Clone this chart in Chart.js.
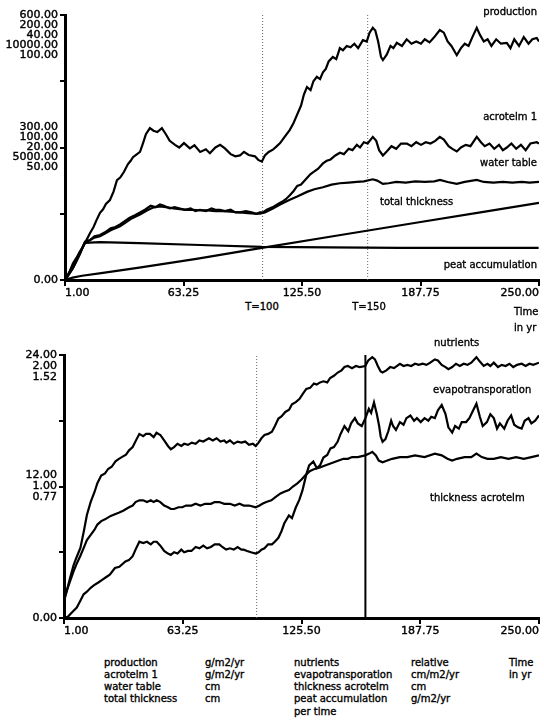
<!DOCTYPE html>
<html><head><meta charset="utf-8">
<script src="https://cdn.jsdelivr.net/npm/chart.js@4/dist/chart.umd.min.js"></script>
<style>
html,body{margin:0;padding:0;background:#fff;}
body{width:544px;height:721px;position:relative;overflow:hidden;font-family:"DejaVu Sans",sans-serif;color:#000;}
canvas{position:absolute;left:0;}
.t{position:absolute;font-size:10px;line-height:12px;white-space:nowrap;-webkit-text-stroke:0.35px #000;}
.r{text-align:right;}
.c{text-align:center;width:50px;}
</style></head><body>
<canvas id="topChart" width="544" height="300" style="top:0"></canvas>
<canvas id="botChart" width="544" height="310" style="top:340px"></canvas>

<div class="t r" style="right:7px;top:6px">production</div>
<div class="t r" style="right:7px;top:111px">acrotelm 1</div>
<div class="t r" style="right:7px;top:157px">water table</div>
<div class="t" style="left:380px;top:196px">total thickness</div>
<div class="t r" style="right:7px;top:259px">peat accumulation</div>
<div class="t c" style="left:237px;top:301px">T=100</div>
<div class="t c" style="left:344px;top:301px">T=150</div>
<div class="t" style="left:514px;top:306px">Time</div>
<div class="t" style="left:514px;top:322px">in yr</div>

<div class="t" style="left:434px;top:337px">nutrients</div>
<div class="t" style="left:433px;top:384px">evapotransporation</div>
<div class="t" style="left:430px;top:492px">thickness acrotelm</div>

<div class="t" style="left:104px;top:657px">production<br>acrotelm 1<br>water table<br>total thickness</div>
<div class="t" style="left:205px;top:657px">g/m2/yr<br>g/m2/yr<br>cm<br>cm</div>
<div class="t" style="left:294px;top:657px">nutrients<br>evapotransporation<br>thickness acrotelm<br>peat accumulation</div>
<div class="t" style="left:294px;top:706px">per time</div>
<div class="t" style="left:411px;top:657px">relative<br>cm/m2/yr<br>cm<br>g/m2/yr</div>
<div class="t" style="left:509px;top:657px">Time<br>in yr</div>

<script>
// ---------- x axis ----------
const timeTicks = [1, 63.25, 125.5, 187.75, 250];

// ---------- top chart axis labels (one scale per series) ----------
const topScaleMax = [600, 200, 40, 10000, 100];   // production, acrotelm 1, water table, total thickness, peat accumulation
const topScaleMid = [300, 100, 20, 5000, 50];
const topMarkers = [104.8, 160];

// ---------- top chart series ----------
const prodT = [1, 2, 3.5, 5.2, 7, 8.5, 10.4, 12, 14.1, 16, 17.5, 19.4, 21, 22.5, 24.6, 26.5, 28.3, 30, 32, 34, 35.5, 36.7, 38.5, 40.4, 42, 43.5, 45.6, 47.5, 49.5, 51.9, 54, 56, 58.8, 61, 63.5, 66.6, 69, 72, 75, 77.1, 80, 82.5, 85, 88, 90.5, 92.9, 95, 97.5, 100.8, 102.5, 104.4, 106, 108, 110.2, 112, 114, 116, 119.1, 121, 123, 125, 126.5, 128.1, 130, 131.5, 133.3, 135, 136.5, 138, 139.5, 141.7, 143.5, 145.4, 147, 149, 151, 153, 155, 157.5, 159.5, 161, 162.7, 164, 165.5, 167, 168, 170, 172, 173.5, 175.3, 178, 180.5, 183, 185.5, 188, 190, 192.5, 195, 197.9, 200, 202, 204, 206.8, 209, 211, 213, 215, 217.3, 219, 221, 223, 225, 227.5, 230, 233.1, 235, 237, 239.5, 242, 244.5, 246.5, 248.8, 250];
const prodV = [0, 7, 20, 38, 50, 62, 75, 88, 106, 120, 135, 152, 160, 172, 181, 200, 226, 232, 245, 262, 270, 278, 284, 290, 310, 330, 344, 338, 335, 344, 330, 315, 306, 300, 310, 298, 305, 290, 296, 287, 300, 306, 298, 285, 280, 282, 290, 283, 280, 272, 268, 282, 290, 295, 302, 310, 322, 340, 355, 375, 395, 420, 437, 430, 450, 460, 455, 470, 478, 495, 505, 500, 525, 520, 530, 527, 535, 525, 543, 540, 560, 571, 565, 540, 505, 498, 510, 530, 525, 537, 530, 545, 535, 540, 535, 545, 538, 550, 566, 560, 540, 530, 509, 525, 535, 530, 550, 571, 555, 540, 545, 530, 545, 535, 537, 525, 545, 530, 550, 535, 545, 548, 540];

const acroT = [1, 3, 5.2, 7, 9, 11.5, 14, 16.5, 19.4, 22, 25, 27.5, 29.9, 32, 35, 38, 40.4, 43, 46, 48.5, 50.9, 53, 56, 58.5, 61.4, 64, 67, 69.5, 71.9, 75, 78, 80, 82.4, 85, 88, 90.5, 92.9, 96, 99, 101.5, 103.4, 105, 107, 110.2, 112.5, 115, 117, 119.1, 121, 123, 125, 128.1, 130, 132, 134, 136.5, 138.5, 140.5, 143, 145.4, 147.5, 150, 152, 154.3, 156, 158, 160, 162.7, 164.5, 166, 168, 170, 172.5, 175, 177.5, 180.6, 183, 185.5, 188, 190.5, 193, 195.5, 197.9, 200, 202.5, 204.5, 206.8, 209, 211.5, 214, 217.3, 219.5, 221.5, 224, 226.5, 229, 231, 233.1, 235.5, 238, 240.5, 243, 245.5, 248.8, 250];
const acroV = [0, 4, 9, 14, 20, 29, 30, 33, 34, 36, 39, 40, 42, 44, 47, 49, 51, 53, 56, 55, 57, 56, 54, 55, 54, 53, 54, 52, 53, 52, 54, 53, 53, 52, 53, 51, 51, 52, 51, 50, 51, 51, 53, 55, 57, 59, 61, 64, 67, 71, 72, 77, 80, 82, 84, 88, 90, 91, 94, 96, 95, 99, 98, 102, 100, 104, 103, 108, 105, 98, 94, 97, 101, 99, 103, 103, 101, 104, 102, 104, 103, 105, 108, 106, 101, 99, 97, 100, 102, 101, 108, 104, 101, 103, 99, 102, 98, 100, 103, 99, 102, 98, 103, 104, 103];

const waterT = [1, 5.2, 8, 11.5, 14, 16.5, 19.4, 22, 25, 27.5, 29.9, 33, 36, 40.4, 44, 47, 50.9, 54, 58, 61.4, 65, 68, 71.9, 76, 80, 84, 88, 92.9, 97, 101, 103.4, 106, 110.2, 114, 119.1, 123, 128.1, 132, 136.5, 141, 145.4, 150, 154.3, 158, 162.7, 165, 168, 171, 175, 180, 185, 190, 195, 198, 202, 206.8, 211, 217.3, 221, 226, 231, 236, 241, 245, 250];
const waterV = [0, 1.8, 3.6, 5.7, 6.0, 6.4, 6.6, 7.0, 7.5, 7.8, 8.1, 8.7, 9.3, 9.9, 10.5, 10.9, 11.1, 11.0, 10.8, 10.7, 10.6, 10.6, 10.5, 10.5, 10.4, 10.4, 10.3, 10.2, 10.1, 10.0, 10.0, 10.2, 10.8, 11.4, 12.1, 12.6, 13.3, 13.7, 14.0, 14.4, 14.6, 14.7, 14.8, 14.9, 15.2, 15.0, 14.5, 14.6, 14.8, 14.7, 14.9, 14.8, 14.9, 15.1, 14.8, 14.5, 14.8, 15.1, 14.8, 14.7, 14.8, 14.7, 14.8, 14.7, 14.8];

const thickT = [1, 5, 10, 20, 40, 70, 104.4, 145, 187, 220, 250];
const thickV = [0, 90, 160, 260, 470, 800, 1210, 1690, 2180, 2560, 2910];

const peatT = [1, 6.3, 11.5, 19.4, 40, 71.9, 104.4, 140, 176.9, 215, 249.8];
const peatV = [0, 6.8, 14.0, 14.3, 13.9, 13.2, 12.5, 12.3, 12.1, 12.1, 12.1];

// ---------- bottom chart axis labels ----------
const botScaleMax = [24, 2, 1.52];     // nutrients, evapotransporation, thickness acrotelm
const botScaleMidLabels = ['12.00', '1.00', '0.77'];
const botMarkers = [102, 159];

// ---------- bottom chart series ----------
const nutT = [1, 2.5, 4.1, 6, 7.5, 9.6, 11.5, 13, 15, 17, 18.5, 20.5, 22.5, 24.1, 26, 28, 29.6, 31.5, 33.5, 35.1, 37, 39, 40.5, 42.5, 44, 46, 48, 49.5, 51.5, 53.5, 55.5, 57, 58.7, 60.5, 62.5, 64, 66, 68, 70, 72, 74, 77, 79, 81, 83, 85, 86.1, 88, 90, 92, 94, 96, 98, 100, 101.5, 103, 104.5, 106.1, 108, 110, 111.5, 113.4, 115, 117, 119, 120.5, 122.5, 124.5, 126, 128, 130, 132, 133.5, 135.2, 137, 139, 140.5, 142.5, 144.5, 146.5, 148, 149.8, 152, 154, 156, 158.9, 160.5, 162.6, 164, 165.5, 167, 168, 170, 172, 174, 177.1, 179, 181, 183, 185, 187, 189, 191, 193, 195.4, 197, 199, 201, 202.5, 204.5, 206.5, 208.5, 210.5, 212.5, 214.5, 217.2, 219, 221, 223, 224.5, 226.3, 228.5, 230.5, 232.5, 234.5, 236.5, 238.5, 240.9, 243, 245, 247, 250];
const nutV = [1.5, 2.5, 3.6, 4.8, 5.5, 6.4, 8.0, 9.4, 10.6, 11.5, 12.3, 13.0, 13.2, 13.6, 13.8, 14.3, 14.5, 14.7, 14.9, 15.3, 15.6, 16.3, 16.8, 16.6, 16.8, 16.8, 16.5, 16.9, 16.7, 16.2, 15.7, 15.4, 15.6, 15.9, 15.7, 15.9, 15.8, 16.0, 15.9, 16.2, 16.1, 16.4, 16.2, 16.4, 16.1, 16.2, 16.0, 16.2, 15.9, 16.1, 16.0, 16.1, 15.8, 15.9, 15.7, 16.0, 16.4, 16.7, 16.8, 17.0, 17.5, 18.2, 18.4, 18.8, 19.0, 19.5, 19.7, 20.0, 20.4, 20.9, 21.0, 21.4, 21.3, 21.5, 21.6, 21.5, 21.9, 22.1, 22.4, 22.6, 22.9, 23.0, 22.8, 23.0, 22.9, 23.0, 23.5, 23.8, 23.6, 23.0, 22.5, 22.4, 22.6, 22.9, 22.8, 23.2, 23.0, 23.1, 23.0, 23.2, 23.1, 23.2, 23.1, 23.3, 23.6, 23.5, 23.1, 22.9, 22.7, 22.9, 23.2, 23.0, 23.2, 23.1, 23.3, 23.8, 23.4, 23.0, 23.2, 23.0, 23.3, 22.9, 23.1, 23.0, 23.2, 22.9, 23.1, 23.2, 23.0, 23.2, 23.1, 23.3];

const evapT = [1, 3, 5, 7.7, 9.5, 11.3, 13, 15, 16.8, 19, 21, 23, 25, 27.7, 30, 33.2, 35, 37, 38.5, 40.5, 42.5, 44.5, 46.5, 48, 49.6, 51.5, 53.5, 55.5, 57, 58.7, 60.5, 62.5, 64, 66, 67.8, 70, 72, 74, 76, 78, 80, 82.4, 84, 86, 88, 90, 92, 94, 95.2, 97, 99, 101.5, 103, 104.5, 106.1, 108, 110, 111.5, 113.4, 115, 116.5, 118.9, 120.5, 122.5, 124.4, 126, 128, 129.5, 131.7, 133.5, 135.2, 137, 139, 140.7, 142.5, 144.4, 146, 148, 150, 151.5, 153.5, 155, 157.1, 159, 160.8, 162, 163.5, 165, 166.2, 167, 168, 169.5, 171, 172.5, 173.5, 175, 177.1, 179, 180.5, 182.6, 184.5, 186, 188, 190, 192, 193.5, 195.4, 197, 199, 201, 202.5, 204.5, 206, 208, 209.5, 211.8, 213.5, 215.5, 217.2, 219, 220.5, 222.7, 224.5, 226.3, 228, 229.5, 231.8, 233.5, 235.4, 237, 239, 240.9, 242.5, 244.5, 246, 248, 250];
const evapV = [0, 0.01, 0.04, 0.08, 0.13, 0.18, 0.20, 0.23, 0.25, 0.27, 0.29, 0.31, 0.33, 0.38, 0.39, 0.43, 0.44, 0.47, 0.52, 0.58, 0.57, 0.58, 0.56, 0.58, 0.58, 0.55, 0.51, 0.49, 0.48, 0.50, 0.49, 0.52, 0.50, 0.51, 0.51, 0.54, 0.53, 0.55, 0.53, 0.54, 0.56, 0.56, 0.54, 0.52, 0.53, 0.52, 0.54, 0.52, 0.52, 0.51, 0.50, 0.49, 0.50, 0.52, 0.53, 0.56, 0.56, 0.58, 0.61, 0.66, 0.72, 0.78, 0.76, 0.84, 0.90, 0.97, 1.09, 1.16, 1.19, 1.14, 1.16, 1.22, 1.24, 1.29, 1.30, 1.34, 1.40, 1.46, 1.42, 1.48, 1.52, 1.48, 1.46, 1.52, 1.59, 1.56, 1.64, 1.55, 1.46, 1.38, 1.34, 1.36, 1.42, 1.50, 1.46, 1.43, 1.49, 1.47, 1.52, 1.54, 1.50, 1.52, 1.49, 1.52, 1.50, 1.53, 1.52, 1.58, 1.62, 1.55, 1.45, 1.41, 1.46, 1.44, 1.49, 1.49, 1.52, 1.58, 1.63, 1.53, 1.46, 1.49, 1.55, 1.52, 1.44, 1.48, 1.44, 1.50, 1.54, 1.47, 1.45, 1.44, 1.50, 1.52, 1.48, 1.50, 1.54];

const acroThT = [1, 2.5, 4.1, 6, 7.5, 9.6, 11.5, 13, 15, 17, 18.5, 20.5, 22.5, 24, 25.5, 27.7, 30, 32, 35.1, 37, 38.5, 40.5, 42.5, 44.5, 46.5, 48, 49.6, 51.5, 53.5, 55.5, 57, 58.7, 61, 63, 65, 67.8, 70, 72.5, 75, 78, 80, 82.4, 85, 88, 90.5, 93, 95.2, 98, 101.5, 103.5, 105, 107, 109.7, 112, 114.5, 116.5, 118.9, 121, 123.5, 125.5, 128, 130, 132, 135.2, 137.5, 140, 142.5, 145, 147.5, 149.8, 152, 155, 158.9, 161, 162.6, 164.5, 166, 168, 170.5, 173, 177.1, 181, 185, 190, 195.4, 199, 202, 204.5, 207, 211, 214.5, 217.2, 220, 223, 226.3, 230, 234, 238, 242, 246, 250];
const acroThV = [0.11, 0.16, 0.21, 0.27, 0.31, 0.36, 0.41, 0.45, 0.48, 0.51, 0.54, 0.56, 0.57, 0.58, 0.59, 0.60, 0.61, 0.62, 0.64, 0.65, 0.67, 0.68, 0.68, 0.67, 0.68, 0.67, 0.68, 0.67, 0.65, 0.64, 0.63, 0.63, 0.64, 0.64, 0.65, 0.65, 0.66, 0.65, 0.66, 0.66, 0.67, 0.67, 0.66, 0.66, 0.65, 0.66, 0.65, 0.65, 0.64, 0.65, 0.66, 0.67, 0.68, 0.70, 0.72, 0.73, 0.74, 0.76, 0.78, 0.80, 0.83, 0.85, 0.86, 0.87, 0.88, 0.89, 0.90, 0.91, 0.92, 0.92, 0.93, 0.93, 0.94, 0.95, 0.96, 0.94, 0.91, 0.90, 0.91, 0.92, 0.93, 0.93, 0.94, 0.93, 0.95, 0.94, 0.92, 0.91, 0.92, 0.93, 0.93, 0.95, 0.93, 0.92, 0.92, 0.93, 0.92, 0.93, 0.92, 0.93, 0.94];

// ---------- helpers ----------
const FONT = 'DejaVu Sans';
const pts = (ts, vs) => ts.map((t, i) => ({x: t, y: vs[i]}));
const f2 = v => Number(v).toFixed(2);
const lineDs = (ts, vs, axis) => ({data: pts(ts, vs), yAxisID: axis, borderColor: '#000', borderWidth: 2.2, pointRadius: 0, tension: 0, fill: false});
const markerDs = (t, dash, w, col) => ({data: [{x: t, y: 0}, {x: t, y: 4}], yAxisID: 'yLab', borderColor: col, borderWidth: w, borderDash: dash, pointRadius: 0, fill: false});

function hiddenAxis(max) { return {type: 'linear', display: false, min: 0, max: max}; }

function xAxis(h) {
  return {
    type: 'linear', min: 1, max: 250,
    afterBuildTicks: s => { s.ticks = timeTicks.map(v => ({value: v})); },
    afterFit: s => { s.height = h; s.paddingLeft = 0; s.paddingRight = 0; },
    ticks: {callback: v => f2(v), autoSkip: false, maxRotation: 0, align: 'inner', color: '#000', padding: 1,
            textStrokeColor: '#000', textStrokeWidth: 0.4,
            font: {family: FONT, size: 11}},
    grid: {drawOnChartArea: false, drawTicks: true, tickLength: 6, lineWidth: 2, color: '#000'},
    border: {display: true, width: 3, color: '#000'}
  };
}

function labAxis(w, labelFor, lh) {
  return {
    type: 'linear', position: 'left', min: 0, max: 4,
    afterBuildTicks: s => { s.ticks = [0, 1, 2, 3, 4].map(v => ({value: v})); },
    afterFit: s => { s.width = w; s.paddingTop = 0; s.paddingBottom = 0; },
    ticks: {callback: v => labelFor(v), autoSkip: false, color: '#000', padding: 2,
            textStrokeColor: '#000', textStrokeWidth: 0.4,
            font: {family: FONT, size: 11, lineHeight: lh}},
    grid: {drawOnChartArea: false, drawTicks: true, tickLength: 5, lineWidth: 2, color: '#000'},
    border: {display: true, width: 3, color: '#000'}
  };
}

const topLabel = v => {
  if (v === 4) return ['', '', '', ''].concat(topScaleMax.map(f2));
  if (v === 2) return topScaleMid.map(f2);
  if (v === 0) return f2(0);
  return '';
};
const botLabel = v => {
  if (v === 4) return ['', ''].concat(botScaleMax.map(f2));
  if (v === 2) return botScaleMidLabels;
  if (v === 0) return f2(0);
  return '';
};

new Chart(document.getElementById('topChart'), {
  type: 'line',
  data: {datasets: [
    lineDs(prodT, prodV, 'yProd'),
    lineDs(acroT, acroV, 'yAcro'),
    lineDs(waterT, waterV, 'yWater'),
    lineDs(thickT, thickV, 'yThick'),
    lineDs(peatT, peatV, 'yPeat'),
    markerDs(topMarkers[0], [1, 2], 1, '#666'),
    markerDs(topMarkers[1], [1, 2], 1, '#666')
  ]},
  options: {
    responsive: false, animation: false, events: [],
    layout: {padding: {top: 15, right: 5, left: 0, bottom: 0}},
    plugins: {legend: {display: false}, tooltip: {enabled: false}},
    scales: {
      x: xAxis(20),
      yLab: labAxis(65, topLabel, '10px'),
      yProd: hiddenAxis(topScaleMax[0]),
      yAcro: hiddenAxis(topScaleMax[1]),
      yWater: hiddenAxis(topScaleMax[2]),
      yThick: hiddenAxis(topScaleMax[3]),
      yPeat: hiddenAxis(topScaleMax[4])
    }
  }
});

new Chart(document.getElementById('botChart'), {
  type: 'line',
  data: {datasets: [
    lineDs(nutT, nutV, 'yNut'),
    lineDs(evapT, evapV, 'yEvap'),
    lineDs(acroThT, acroThV, 'yAcTh'),
    markerDs(botMarkers[0], [1, 2], 1, '#666'),
    markerDs(botMarkers[1], [], 2, '#000')
  ]},
  options: {
    responsive: false, animation: false, events: [],
    layout: {padding: {top: 15, right: 5, left: 0, bottom: 0}},
    plugins: {legend: {display: false}, tooltip: {enabled: false}},
    scales: {
      x: xAxis(32),
      yLab: labAxis(64, botLabel, '11px'),
      yNut: hiddenAxis(botScaleMax[0]),
      yEvap: hiddenAxis(botScaleMax[1]),
      yAcTh: hiddenAxis(botScaleMax[2])
    }
  }
});
</script>
</body></html>
